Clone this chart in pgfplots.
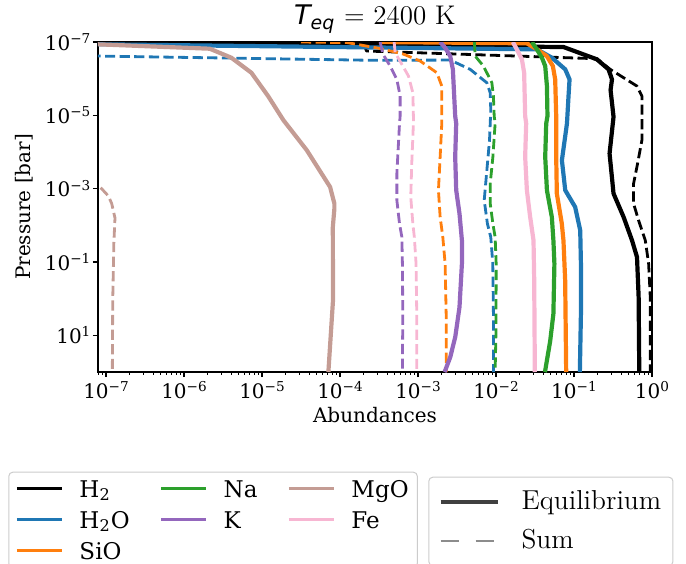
\documentclass[border=0pt]{standalone}
\usepackage{fontspec}
\usepackage{pgfplots}
\pgfplotsset{compat=1.18}
\newfontfamily\dserif{DejaVu Serif}
\newfontfamily\dsans{DejaVu Sans}
\definecolor{cH2O}{HTML}{1F77B4}
\definecolor{cSiO}{HTML}{FF7F0E}
\definecolor{cNa}{HTML}{2CA02C}
\definecolor{cK}{HTML}{9467BD}
\definecolor{cMgO}{HTML}{C49C94}
\definecolor{cFe}{HTML}{F7B6D2}
\definecolor{legedge}{HTML}{CCCCCC}
\newcommand{\tl}[1]{10\raisebox{3.3pt}{\fontsize{6.8}{8}\selectfont #1}}
\tikzset{
  sol/.style={line width=2.1pt, solid, line join=round},
  dsh/.style={line width=1.4pt, dash pattern=on 5.1pt off 2.2pt, line join=round},
}
\begin{document}
\begin{tikzpicture}
\useasboundingbox (-49pt,-95.5pt) rectangle (294pt,186pt);
\clip (-49pt,-95.5pt) rectangle (294pt,186pt);
\begin{axis}[
  scale only axis, width=277pt, height=165pt,
  xmode=log, ymode=log, y dir=reverse,
  xmin=7.89e-8, xmax=1, ymin=1e-7, ymax=1e2,
  xtick={1e-7,1e-6,1e-5,1e-4,1e-3,1e-2,1e-1,1},
  xticklabels={\tl{−7},\tl{−6},\tl{−5},\tl{−4},\tl{−3},\tl{−2},\tl{−1},\tl{0}},
  minor xtick={8e-8,9e-8,2e-7,3e-7,4e-7,5e-7,6e-7,7e-7,8e-7,9e-7,2e-6,3e-6,4e-6,5e-6,6e-6,7e-6,8e-6,9e-6,2e-5,3e-5,4e-5,5e-5,6e-5,7e-5,8e-5,9e-5,2e-4,3e-4,4e-4,5e-4,6e-4,7e-4,8e-4,9e-4,2e-3,3e-3,4e-3,5e-3,6e-3,7e-3,8e-3,9e-3,2e-2,3e-2,4e-2,5e-2,6e-2,7e-2,8e-2,9e-2,2e-1,3e-1,4e-1,5e-1,6e-1,7e-1,8e-1,9e-1},
  ytick={1e-7,1e-5,1e-3,1e-1,1e1},
  yticklabels={\tl{−7},\tl{−5},\tl{−3},\tl{−1},\tl{1}},
  yminorticks=false,
  tick align=outside, tick pos=left,
  major tick length=2.6pt, minor tick length=1.4pt,
  major tick style={black, line width=0.6pt},
  minor tick style={black, line width=0.45pt},
  axis line style={black, line width=0.6pt},
  tick label style={font=\dserif\fontsize{10}{12}\selectfont},
  xticklabel style={anchor=base, inner sep=0pt, yshift=-10.5pt},
  yticklabel style={anchor=east, inner sep=0pt, xshift=-1pt},
  xlabel={Abundances},
  ylabel={Pressure [bar]},
  label style={font=\dserif\fontsize{10}{12}\selectfont},
  xlabel style={at={(axis description cs:0.5,-0.1545)}, anchor=base},
  ylabel style={at={(axis description cs:-0.1327,0.5)}, anchor=center},
  title={{\dsans\itshape T\textsubscript{eq}} = 2400 K},
  title style={font=\fontsize{13.5}{16}\selectfont, at={(axis description cs:0.5,1.016)}, anchor=base},
  legend columns=3,
  legend cell align=left,
  legend image code/.code={\draw[#1] (0pt,0pt) -- (22.5pt,0pt);},
  legend style={at={(axis description cs:-0.1619,-0.3021)}, anchor=north west,
    draw=legedge, line width=0.5pt, rounded corners=2pt, fill=white,
    font=\dserif\fontsize{11.5}{13}\selectfont,
    inner xsep=3.35pt, inner ysep=1.3pt, row sep=1.5pt,
    nodes={inner xsep=1pt, inner ysep=1pt, text height=10.2pt, text depth=1.8pt},
    /tikz/every odd column/.append style={column sep=7pt},
    /tikz/every even column/.append style={column sep=14pt}},
]
% H2
\addplot[black, sol, forget plot] coordinates {(1e-8,1e-7) (7.345e-2,1.371e-7) (0.1968,2.972e-7) (0.2773,5.572e-7) (0.3069,1.047e-6) (0.2944,2.046e-6) (0.3214,1.099e-5) (0.2858,1.099e-4) (0.3214,1.361e-3) (0.4325,5.929e-3) (0.5546,2.570e-2) (0.6427,7.345e-2) (0.6745,0.9099) (0.6871,100)};
\addplot[black, dsh, forget plot] coordinates {(1e-8,1.059e-7) (1.995e-4,1.084e-7) (2.188e-4,1.762e-7) (0.1968,2.858e-7) (0.2917,5.572e-7) (0.6412,1.592e-6) (0.7430,2.985e-6) (0.7430,4.764e-5) (0.6412,2.553e-4) (0.5808,7.261e-4) (0.5808,2.553e-3) (0.6730,7.295e-3) (0.8204,2.570e-2) (0.9057,0.1112) (0.9506,0.9099) (0.9506,100)};
% H2O
\addplot[cH2O, sol, forget plot] coordinates {(6.310e-8,1.148e-7) (3.350e-2,1.585e-7) (5.212e-2,2.685e-7) (7.727e-2,5.572e-7) (8.770e-2,1.047e-6) (8.511e-2,2.985e-6) (8.128e-2,1.663e-5) (6.998e-2,1.675e-4) (7.727e-2,1.107e-3) (0.1035,3.162e-3) (0.1202,1.371e-2) (0.1227,0.1112) (0.1227,2.588) (0.1189,100)};
\addplot[cH2O, dsh, forget plot] coordinates {(6.310e-8,2.399e-7) (2.799e-4,3.162e-7) (2.588e-3,3.105e-7) (4.667e-3,5.572e-7) (7.638e-3,1.294e-6) (8.433e-3,2.427e-6) (8.570e-3,7.211e-6) (8.260e-3,4.764e-5) (7.638e-3,3.141e-4) (7.063e-3,2.075e-3) (7.762e-3,8.995e-3) (8.570e-3,2.089e-2) (9.099e-3,0.1112) (9.268e-3,2.588) (9.268e-3,100)};
% SiO
\addplot[cSiO, sol, forget plot] coordinates {(3.162e-4,1e-7) (2.489e-2,1.086e-7) (3.350e-2,1.585e-7) (4.477e-2,2.415e-7) (5.358e-2,4.529e-7) (5.741e-2,1.047e-6) (5.916e-2,1.052e-5) (5.916e-2,1.361e-4) (6.026e-2,1.361e-3) (6.982e-2,8.995e-3) (7.328e-2,2.570e-2) (7.709e-2,0.3184) (7.943e-2,100)};
\addplot[cSiO, dsh, forget plot] coordinates {(3.162e-5,1e-7) (1.233e-4,1.035e-7) (3.273e-4,1.507e-7) (6.457e-4,2.128e-7) (1.067e-3,3.304e-7) (1.746e-3,6.902e-7) (2.018e-3,1.592e-6) (2.018e-3,1.663e-5) (1.923e-3,1.361e-4) (1.828e-3,1.107e-3) (1.923e-3,5.929e-3) (2.080e-3,2.089e-2) (2.228e-3,0.1112) (2.296e-3,2.588) (2.296e-3,100)};
% Na
\addplot[cNa, sol, forget plot] coordinates {(2.884e-2,1e-7) (3.342e-2,1.585e-7) (3.882e-2,2.685e-7) (4.276e-2,4.529e-7) (4.498e-2,1.592e-6) (4.571e-2,1.052e-5) (4.406e-2,1.663e-5) (4.276e-2,1.361e-4) (4.498e-2,1.107e-3) (5.200e-2,5.929e-3) (5.445e-2,2.570e-2) (5.610e-2,0.1112) (5.445e-2,2.588) (4.955e-2,14.13) (4.276e-2,91.62) (4.217e-2,100)};
\addplot[cNa, dsh, forget plot] coordinates {(5.284e-3,1e-7) (5.408e-3,2.415e-7) (6.902e-3,4.529e-7) (8.851e-3,1.294e-6) (9.268e-3,2.985e-6) (9.484e-3,1.052e-5) (9.750e-3,1.663e-5) (9.120e-3,1.361e-4) (8.433e-3,7.261e-4) (8.433e-3,2.553e-3) (9.120e-3,8.995e-3) (9.750e-3,2.089e-2) (1.005e-2,0.1112) (1.0e-2,7.396) (9.750e-3,100)};
% K
\addplot[cK, sol, forget plot] coordinates {(1.923e-3,1e-7) (2.228e-3,1.432e-7) (2.588e-3,2.415e-7) (2.799e-3,5.572e-7) (2.999e-3,1.052e-5) (3.090e-3,1.663e-5) (2.999e-3,1.361e-4) (3.090e-3,1.107e-3) (3.404e-3,4.786e-3) (3.656e-3,2.570e-2) (3.656e-3,0.1112) (3.404e-3,1.706) (2.999e-3,11.27) (2.588e-3,39.63) (2.228e-3,91.62) (2.188e-3,100)};
\addplot[cK, dsh, forget plot] coordinates {(3.273e-4,1e-7) (3.548e-4,2.128e-7) (4.395e-4,4.529e-7) (5.358e-4,1.047e-6) (5.902e-4,2.985e-6) (5.902e-4,1.052e-5) (5.794e-4,1.663e-5) (5.358e-4,3.864e-4) (5.358e-4,2.075e-3) (5.794e-4,8.995e-3) (6.209e-4,2.089e-2) (6.310e-4,0.1112) (6.383e-4,2.588) (6.310e-4,100)};
% MgO
\addplot[cMgO, sol, forget plot] coordinates {(6.310e-8,1.148e-7) (7.889e-8,1.156e-7) (2.138e-6,1.524e-7) (4.046e-6,2.685e-7) (7.311e-6,6.902e-7) (1.197e-5,2.985e-6) (1.879e-5,1.352e-5) (3.750e-5,8.933e-5) (7.464e-5,8.995e-4) (8.472e-5,2.553e-3) (8.472e-5,3.499e-3) (8.091e-5,1.114e-2) (8.128e-5,1.119) (7.096e-5,100)};
\addplot[cMgO, dsh, forget plot] coordinates {(5.623e-8,7.943e-4) (8.375e-8,8.995e-4) (1.072e-7,1.585e-3) (1.183e-7,2.553e-3) (1.303e-7,6.310e-3) (1.259e-7,3.162e-2) (1.219e-7,1.122) (1.205e-7,100)};
% Fe
\addplot[cFe, sol, forget plot] coordinates {(1.644e-2,1e-7) (1.849e-2,1.585e-7) (2.148e-2,2.972e-7) (2.296e-2,6.902e-7) (2.366e-2,1.052e-5) (2.438e-2,1.663e-5) (2.366e-2,1.361e-4) (2.489e-2,1.107e-3) (2.742e-2,5.929e-3) (3.027e-2,2.570e-2) (3.090e-2,0.3184) (3.148e-2,100)};
\addplot[cFe, dsh, forget plot] coordinates {(4.943e-4,1e-7) (5.093e-4,1.959e-7) (6.209e-4,4.064e-7) (7.551e-4,8.492e-7) (8.590e-4,2.427e-6) (8.730e-4,1.052e-5) (8.730e-4,1.663e-5) (8.318e-4,2.061e-4) (8.072e-4,1.687e-3) (8.590e-4,8.995e-3) (8.974e-4,2.089e-2) (9.441e-4,0.1112) (9.638e-4,2.588) (9.638e-4,100)};
% legend (row-major order gives column-major appearance)
\addlegendimage{black, line width=1.5pt}\addlegendentry{H\textsubscript{2}}
\addlegendimage{cNa, line width=1.5pt}\addlegendentry{Na}
\addlegendimage{cMgO, line width=1.5pt}\addlegendentry{MgO}
\addlegendimage{cH2O, line width=1.5pt}\addlegendentry{H\textsubscript{2}O}
\addlegendimage{cK, line width=1.5pt}\addlegendentry{K}
\addlegendimage{cFe, line width=1.5pt}\addlegendentry{Fe}
\addlegendimage{cSiO, line width=1.5pt}\addlegendentry{SiO}
\end{axis}
\begin{axis}[
  hide axis, scale only axis, width=277pt, height=165pt,
  xmin=0, xmax=1, ymin=0, ymax=1,
  legend cell align=left,
  legend image code/.code={\draw[#1] (0pt,0pt) -- (28.5pt,0pt);},
  legend style={at={(axis description cs:0.5962,-0.3173)}, anchor=north west,
    draw=legedge, line width=0.5pt, rounded corners=2pt, fill=white,
    font=\fontsize{13.7}{16}\selectfont,
    inner xsep=4.85pt, inner ysep=4.25pt, row sep=2.7pt,
    nodes={inner xsep=1pt, inner ysep=1pt, text height=11pt, text depth=3.5pt},
    /tikz/every odd column/.append style={column sep=10pt}},
]
\addlegendimage{black!75, line width=2pt, solid}\addlegendentry{Equilibrium}
\addlegendimage{black!45, line width=1pt, dash pattern=on 9.2pt off 8.3pt}\addlegendentry{Sum}
\end{axis}
\end{tikzpicture}
\end{document}
